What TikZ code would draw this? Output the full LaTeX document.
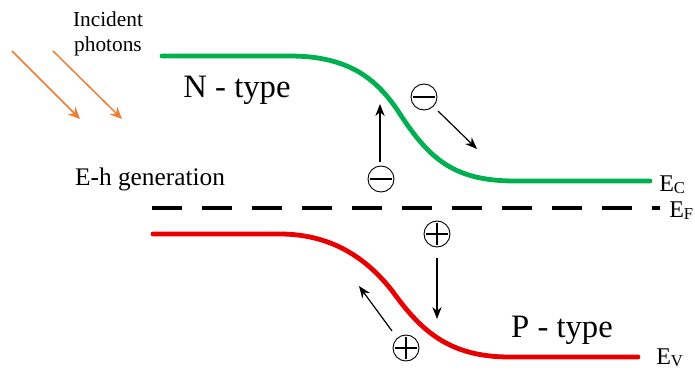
\documentclass[tikz,border=0pt]{standalone}
\usepackage{fontspec}
\setmainfont{Liberation Serif}
\usetikzlibrary{arrows.meta}
\definecolor{bandgreen}{RGB}{0,176,80}
\definecolor{bandred}{RGB}{232,0,0}
\definecolor{photon}{RGB}{237,125,49}
\newcommand{\lev}[1]{E\raisebox{-2pt}{\fontsize{12.5}{12.5}\selectfont #1}}
\tikzset{
  band/.style={line width=3.6pt, line cap=round},
  carrier/.style={draw, circle, line width=0.7pt, minimum size=19.5pt, inner sep=0pt},
  motion/.style={line width=0.9pt, -{Stealth[length=9pt,width=7pt]}},
  ray/.style={photon, line width=1.1pt, -{Stealth[length=9pt,width=8pt]}},
  lbl/.style={inner sep=0pt, anchor=base west, font=\fontsize{18}{18}\selectfont}
}
\begin{document}
\begin{tikzpicture}[x=0.75pt,y=-0.75pt]
\useasboundingbox (0,0) rectangle (695,369);
% conduction band
\draw[band, bandgreen] (162,56) -- (290,56)
  .. controls (350,56) and (378,80) .. (400,114)
  .. controls (430,160) and (455,181) .. (515,181) -- (650,181);
% valence band
\draw[band, bandred] (153,234) -- (280,234)
  .. controls (335,234) and (370,262) .. (393,292)
  .. controls (422,332) and (450,357) .. (510,357) -- (638,357);
% Fermi level
\draw[line width=3pt, dash pattern=on 22.5pt off 15pt] (152,208) -- (660,208);
% labels
\node[lbl] (ec) at (659,191) {\lev{C}};
\node[lbl] (ef) at (669,217) {\lev{F}};
\node[lbl] (ev) at (656,364) {\lev{V}};
\node (ntype) at (237,90) {\fontsize{24.5}{26}\selectfont N - type};
\node (ptype) at (562,330) {\fontsize{24.5}{26}\selectfont P - type};
\node (eh) at (150,179) {\fontsize{19}{20}\selectfont E-h generation};
\node[align=center, inner sep=0pt, font=\fontsize{16}{19}\selectfont] (inc) at (108,34) {Incident\\photons};
% photons
\coordinate (p1s) at (12,51); \coordinate (p1e) at (80,119);
\coordinate (p2s) at (53,51); \coordinate (p2e) at (122,119);
\draw[ray] (p1s) -- (p1e);
\draw[ray] (p2s) -- (p2e);
% electrons
\node[carrier] (e1) at (381,179) {};
\draw[line width=0.9pt] ([xshift=-8pt]e1.center) -- ([xshift=8pt]e1.center);
\node[carrier] (e2) at (424,97) {};
\draw[line width=0.9pt] ([xshift=-8pt]e2.center) -- ([xshift=8pt]e2.center);
\coordinate (e1s) at (380,162); \coordinate (e1a) at (380,104);
\draw[motion] (e1s) -- (e1a);
\coordinate (e2s) at (438,111); \coordinate (e2a) at (477,149);
\draw[motion] (e2s) -- (e2a);
% holes
\node[carrier] (h1) at (437,234) {};
\draw[line width=0.9pt] ([xshift=-8pt]h1.center) -- ([xshift=8pt]h1.center)
  ([yshift=-8pt]h1.center) -- ([yshift=8pt]h1.center);
\node[carrier] (h2) at (406,348) {};
\draw[line width=0.9pt] ([xshift=-8pt]h2.center) -- ([xshift=8pt]h2.center)
  ([yshift=-8pt]h2.center) -- ([yshift=8pt]h2.center);
\coordinate (h1s) at (437,258); \coordinate (h1a) at (437,319);
\draw[motion] (h1s) -- (h1a);
\coordinate (h2s) at (392,331); \coordinate (h2a) at (359,286);
\draw[motion] (h2s) -- (h2a);
\end{tikzpicture}
\end{document}
